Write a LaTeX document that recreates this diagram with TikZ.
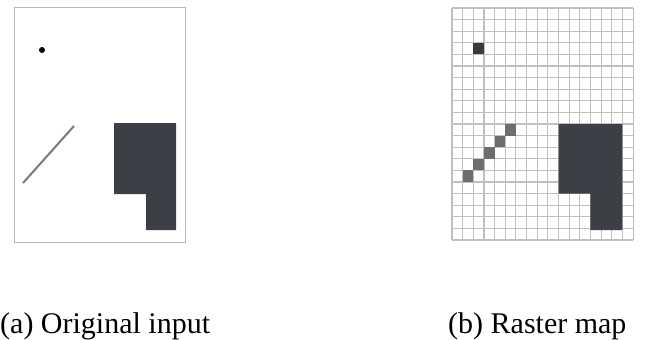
\documentclass[tikz,border=0pt]{standalone}
\usepackage{fontspec}
\setmainfont{Liberation Serif}
\usetikzlibrary{positioning}
\definecolor{blockgray}{HTML}{3C3F46}
\definecolor{dotgray}{HTML}{3A3A3A}
\definecolor{stairgray}{HTML}{6E6E6E}
\definecolor{linegray}{HTML}{7A7A7A}
\begin{document}
\begin{tikzpicture}[
    x=1pt, y=-1pt,
    frame/.style={draw=gray!55, line width=0.9pt},
    gridline/.style={draw=gray!50, line width=1.1pt},
    caption/.style={font=\fontsize{30}{36}\selectfont, anchor=base west, inner sep=0pt}
]
    \useasboundingbox (0,0) rectangle (656,340);

    % (a) original input
    \draw[frame] (14,7) rectangle (185,242);
    \fill[black] (42,50) circle (3);
    \draw[linegray, line width=2pt] (23,183) -- (74,126);
    \fill[blockgray] (114,123) -- (176,123) -- (176,230) -- (146,230) -- (146,194) -- (114,194) -- cycle;

    % (b) raster map, 17 x 20 cells
    \foreach \i in {0,...,17}
        \draw[gridline] ({452+\i*10.65},8) -- ({452+\i*10.65},240);
    \foreach \j in {0,...,20}
        \draw[gridline] (452,{8+\j*11.6}) -- (633,{8+\j*11.6});
    \fill[dotgray] ({452+2*10.65},{8+3*11.6}) rectangle ++(10.65,11.6);
    \foreach \c/\r in {1/14, 2/13, 3/12, 4/11, 5/10}
        \fill[stairgray] ({452+\c*10.65},{8+\r*11.6}) rectangle ++(10.65,11.6);
    \fill[blockgray] (558.5,124) -- (622.4,124) -- (622.4,230) -- (590.45,230) -- (590.45,193.6) -- (558.5,193.6) -- cycle;

    \node[caption] (capa) at (0,333) {(a) Original input};
    \node[caption] (capb) at (448,333) {(b) Raster map};
\end{tikzpicture}
\end{document}
